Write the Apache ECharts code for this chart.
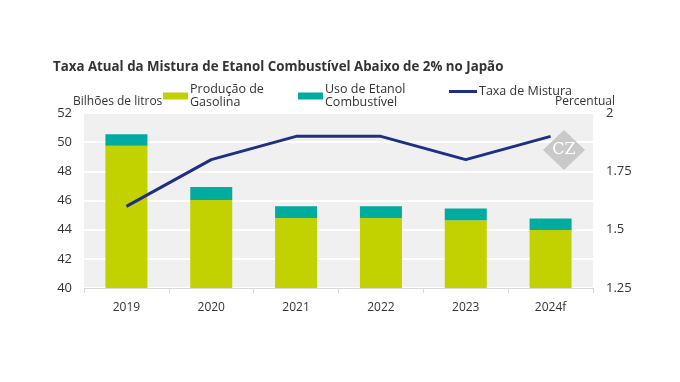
<!DOCTYPE html>
<html><head><meta charset="utf-8">
<script src="https://cdn.jsdelivr.net/npm/echarts@6/dist/echarts.min.js"></script>
<style>html,body{margin:0;padding:0;background:#fff}#c{width:680px;height:382px}</style>
</head><body><div id="c"></div>
<script>
const categories = ['2019','2020','2021','2022','2023','2024f'];
const gasolina = [49.75, 46.03, 44.8, 44.8, 44.65, 43.97];
const etanol = [0.8, 0.9, 0.8, 0.8, 0.8, 0.8];
const taxa = [1.6, 1.8, 1.9, 1.9, 1.8, 1.9];
const leftTicks = {min:40, max:52, interval:2};
const rightTicks = {min:1.25, max:2, interval:0.25};

const font = '"Open Sans", "Noto Sans", sans-serif';
const chart = echarts.init(document.getElementById('c'));
const legendBase = {
  top: 78, itemGap: 2,
  textStyle: {fontFamily: font, fontSize: 12.5, color: '#333', lineHeight: 13, padding: [0,0,0,-3]},
  selectedMode: false
};
chart.setOption({
  animation: false,
  title: {text: 'Taxa Atual da Mistura de Etanol Combustível Abaixo de 2% no Japão', left: 48, top: 56,
    textStyle: {fontFamily: font, fontSize: 13.3, fontWeight: 'bold', color: '#333'}},
  legend: [
    Object.assign({}, legendBase, {left: 158, data: [{name:'Produção de Gasolina', icon:'rect'}], itemWidth: 25, itemHeight: 7,
      formatter: () => 'Produção de\nGasolina'}),
    Object.assign({}, legendBase, {left: 293, data: [{name:'Uso de Etanol Combustível', icon:'rect'}], itemWidth: 25, itemHeight: 7,
      formatter: () => 'Uso de Etanol\nCombustível'}),
    Object.assign({}, legendBase, {left: 444, top: 80, data: [{name:'Taxa de Mistura', icon:'rect'}], itemWidth: 28, itemHeight: 3,
      textStyle: {fontFamily: font, fontSize: 12.5, color: '#333', padding: [0,0,0,-3]}})
  ],
  grid: {left: 84, right: 87, top: 113, bottom: 94, show: true, backgroundColor: '#f0f0f0', borderWidth: 0},
  xAxis: {type: 'category', data: categories,
    axisLine: {lineStyle: {color: '#d9d9d9'}},
    axisTick: {show: true, length: 5, lineStyle: {color: '#d9d9d9'}},
    axisLabel: {fontFamily: font, fontSize: 12, color: '#333', margin: 14}},
  yAxis: [
    {type: 'value', min: leftTicks.min, max: leftTicks.max, interval: leftTicks.interval,
      axisLabel: {fontFamily: font, fontSize: 13, color: '#333', margin: 12},
      splitLine: {lineStyle: {color: '#ffffff', width: 2}}, axisLine: {show: false}, axisTick: {show: false}},
    {type: 'value', min: rightTicks.min, max: rightTicks.max, interval: rightTicks.interval,
      axisLabel: {fontFamily: font, fontSize: 13, color: '#333', margin: 13},
      splitLine: {show: false}, axisLine: {show: false}, axisTick: {show: false}}
  ],
  series: [
    {name: 'Produção de Gasolina', type: 'bar', stack: 'a', data: gasolina, barWidth: 42, itemStyle: {color: '#c2d100'}},
    {name: 'Uso de Etanol Combustível', type: 'bar', stack: 'a', data: etanol, itemStyle: {color: '#00ab9f'}},
    {name: 'Taxa de Mistura', type: 'line', yAxisIndex: 1, data: taxa, symbol: 'none', itemStyle: {color: '#1f2f86'},
      lineStyle: {color: '#1f2f86', width: 3}}
  ],
  graphic: [
    {type: 'text', left: 73, top: 96, style: {text: 'Bilhões de litros', font: '12px ' + font, fill: '#333'}},
    {type: 'text', right: 65, top: 96, style: {text: 'Percentual', font: '12px ' + font, fill: '#333'}},
    {type: 'polygon', z: 1, shape: {points: [[564,130],[585,150],[564,170],[543,150]]}, style: {fill: '#c9c9c9'}},
    {type: 'text', z: 2, x: 564, y: 150, style: {text: 'CZ', font: '16px "DejaVu Serif", serif', fill: '#fff', align: 'center', verticalAlign: 'middle'}}
  ]
});
</script></body></html>
